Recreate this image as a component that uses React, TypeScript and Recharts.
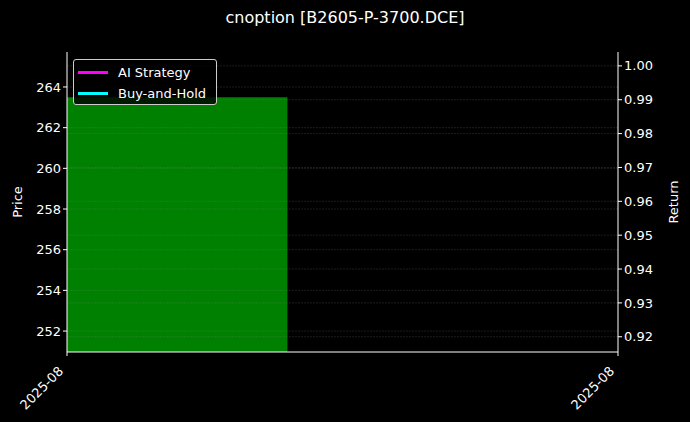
import React from "react";
import {
  ComposedChart,
  Area,
  Line,
  XAxis,
  YAxis,
  ReferenceLine,
} from "recharts";

const TITLE = "cnoption [B2605-P-3700.DCE]";
const xTickLabels = ["2025-08", "2025-08"];
const xTicks = [0, 1];
const barX = [0, 0.4];
const barPrice = [263.5, 263.5];
const priceTicks = [252, 254, 256, 258, 260, 262, 264];
const returnTicks = [0.92, 0.93, 0.94, 0.95, 0.96, 0.97, 0.98, 0.99, 1.0];
const priceDomain = [250.97, 265.72];
const returnDomain = [0.9155, 1.0041];
const strategyReturns: { x: number; ret: number }[] = [];
const holdReturns: { x: number; ret: number }[] = [];

const barData = barX.map((x, i) => ({ x, price: barPrice[i] }));

const FONT = "'DejaVu Sans', sans-serif";
const GRID = { stroke: "#888", strokeOpacity: 0.35, strokeWidth: 0.6, strokeDasharray: "2 1" };

function XTick(props: any) {
  const { x, y, payload } = props;
  const label = xTickLabels[xTicks.indexOf(payload.value)] ?? "";
  const ax = x - 3;
  const ay = y + 14;
  return (
    <text
      x={ax}
      y={ay}
      fill="#fff"
      fontSize={13}
      fontFamily={FONT}
      textAnchor="end"
      transform={`rotate(-45 ${ax} ${ay})`}
    >
      {label}
    </text>
  );
}

function AxisLabel(props: any) {
  const { viewBox, text, side } = props;
  if (!viewBox) return null;
  const cx = side === "left" ? viewBox.x + 17 : viewBox.x + viewBox.width - 17;
  const cy = viewBox.y + viewBox.height / 2;
  return (
    <text
      x={cx}
      y={cy}
      fill="#fff"
      fontSize={13}
      fontFamily={FONT}
      textAnchor="middle"
      dominantBaseline="central"
      transform={`rotate(-90 ${cx} ${cy})`}
    >
      {text}
    </text>
  );
}

function LegendBox() {
  const items = [
    { name: "AI Strategy", color: "#ff00ff" },
    { name: "Buy-and-Hold", color: "#00ffff" },
  ];
  return (
    <div
      style={{
        position: "absolute",
        left: 73,
        top: 59,
        width: 144,
        height: 46,
        boxSizing: "border-box",
        border: "1px solid #ccc",
        borderRadius: 3,
        background: "rgba(0,0,0,0.8)",
        padding: "2px 0 0 4px",
        fontFamily: FONT,
        fontSize: 13,
        color: "#fff",
      }}
    >
      {items.map((it) => (
        <div key={it.name} style={{ display: "flex", alignItems: "center", height: 21 }}>
          <span
            style={{
              display: "inline-block",
              flexShrink: 0,
              width: 30,
              height: 2.5,
              background: it.color,
              marginRight: 10,
            }}
          />
          <span style={{ whiteSpace: "nowrap" }}>{it.name}</span>
        </div>
      ))}
    </div>
  );
}

export default function App() {
  return (
    <div
      style={{
        position: "absolute",
        left: 0,
        top: 0,
        width: 690,
        height: 422,
        background: "#000",
        fontFamily: FONT,
      }}
    >
      <div
        style={{
          position: "absolute",
          top: 8,
          left: 0,
          width: 690,
          textAlign: "center",
          color: "#fff",
          fontSize: 16,
        }}
      >
        {TITLE}
      </div>
      <ComposedChart
        width={690}
        height={422}
        data={barData}
        margin={{ top: 52, right: 0, bottom: 0, left: 0 }}
      >
        <XAxis
          dataKey="x"
          type="number"
          domain={[0, 1]}
          ticks={xTicks}
          height={70}
          axisLine={{ stroke: "#fff" }}
          tickLine={{ stroke: "#fff" }}
          tickSize={4}
          tick={<XTick />}
          interval={0}
          allowDataOverflow
        />
        <XAxis
          xAxisId="top"
          orientation="top"
          type="number"
          domain={[0, 1]}
          height={0}
          tick={false}
          tickLine={false}
          axisLine={{ stroke: "#fff" }}
        />
        <YAxis
          yAxisId="price"
          domain={priceDomain}
          ticks={priceTicks}
          allowDataOverflow
          width={67}
          axisLine={{ stroke: "#fff" }}
          tickLine={{ stroke: "#fff" }}
          tickSize={4}
          tick={{ fill: "#fff", fontSize: 13, fontFamily: FONT }}
          label={<AxisLabel text="Price" side="left" />}
        />
        <YAxis
          yAxisId="ret"
          orientation="right"
          domain={returnDomain}
          ticks={returnTicks}
          allowDataOverflow
          width={72}
          axisLine={{ stroke: "#fff" }}
          tickLine={{ stroke: "#fff" }}
          tickSize={4}
          tick={{ fill: "#fff", fontSize: 13, fontFamily: FONT }}
          tickFormatter={(v: number) => v.toFixed(2)}
          label={<AxisLabel text="Return" side="right" />}
        />
        <Area
          yAxisId="price"
          dataKey="price"
          type="linear"
          baseValue={priceDomain[0]}
          fill="#008000"
          fillOpacity={1}
          stroke="none"
          isAnimationActive={false}
        />
        {priceTicks.map((t) => (
          <ReferenceLine key={`p${t}`} yAxisId="price" y={t} {...GRID} />
        ))}
        {returnTicks.map((t) => (
          <ReferenceLine key={`r${t}`} yAxisId="ret" y={t} {...GRID} />
        ))}
        <Line
          yAxisId="ret"
          data={strategyReturns}
          dataKey="ret"
          stroke="#ff00ff"
          dot={false}
          isAnimationActive={false}
        />
        <Line
          yAxisId="ret"
          data={holdReturns}
          dataKey="ret"
          stroke="#00ffff"
          dot={false}
          isAnimationActive={false}
        />
      </ComposedChart>
      <LegendBox />
    </div>
  );
}
